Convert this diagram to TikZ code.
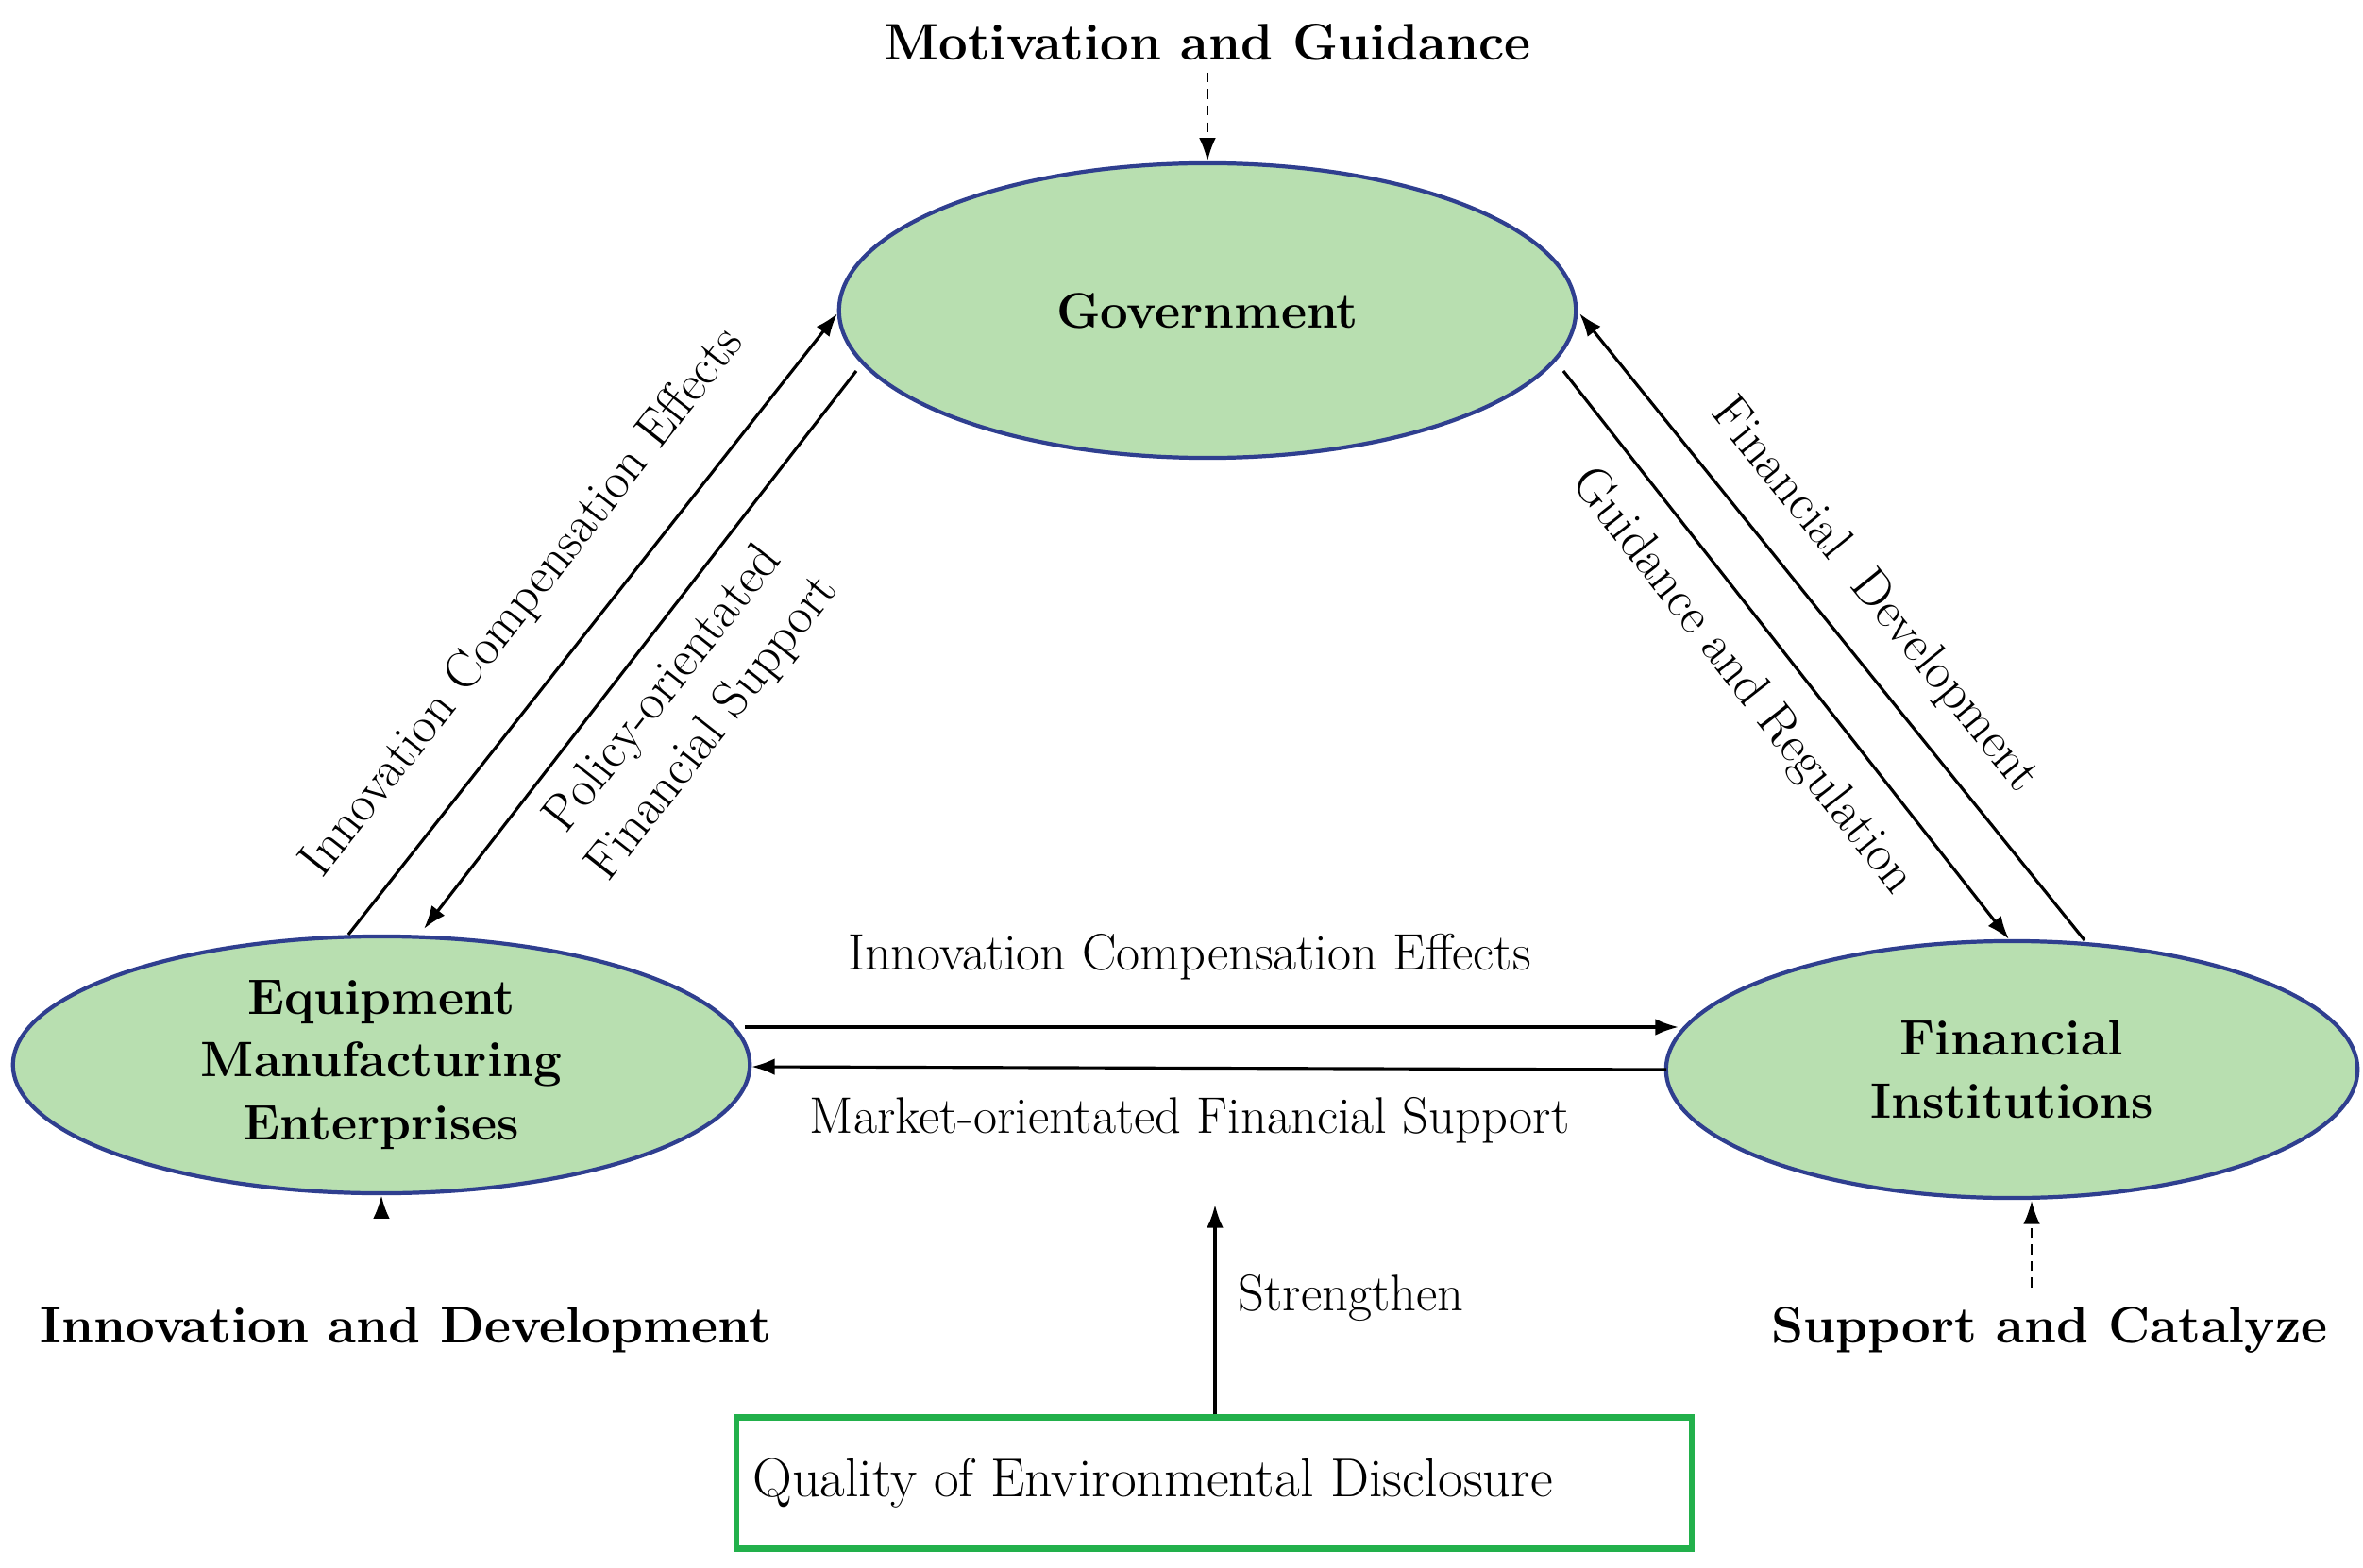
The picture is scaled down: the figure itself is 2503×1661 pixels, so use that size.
\documentclass[tikz,border=0pt]{standalone}
\usetikzlibrary{arrows.meta,shapes.geometric}
\definecolor{efill}{HTML}{B8DFB0}
\definecolor{edraw}{HTML}{2F3F8F}
\definecolor{bgreen}{HTML}{22B04B}
\tikzset{
 ell/.style={ellipse,draw=edraw,fill=efill,line width=1.2pt,font=\fontsize{15}{19}\selectfont\bfseries,align=center,inner sep=0pt},
 arr/.style={-{Latex[length=7pt,width=5pt]},line width=0.9pt},
 darr/.style={arr,densely dashed,line width=0.6pt},
 lab/.style={font=\fontsize{15.5}{19}\selectfont,align=center},
 head/.style={font=\fontsize{15.5}{20}\selectfont\bfseries}
}
\begin{document}
\begin{tikzpicture}[x=0.01cm,y=-0.01cm]
\useasboundingbox (0,0) rectangle (2503,1661);
\node[ell,minimum width=7.8cm,minimum height=3.12cm] (gov) at (1279,329) {Government};
\node[ell,minimum width=7.8cm,minimum height=2.72cm] (eme) at (404,1128) {Equipment\\Manufacturing\\Enterprises};
\node[ell,minimum width=7.32cm,minimum height=2.72cm] (fin) at (2131,1133) {Financial\\Institutions};
\node[head] (mg) at (1279,45) {Motivation and Guidance};
\draw[darr] (mg.south) -- (gov.north);
\coordinate (a1) at (369,990); \coordinate (a2) at (887,332);
\coordinate (b1) at (907,393); \coordinate (b2) at (449,984);
\coordinate (c1) at (1656,393); \coordinate (c2) at (2128,995);
\coordinate (d1) at (2208,996); \coordinate (d2) at (1673,332);
\draw[arr] (a1) -- (a2);
\draw[arr] (b1) -- (b2);
\draw[arr] (c1) -- (c2);
\draw[arr] (d1) -- (d2);
\coordinate (h1) at (789,1088); \coordinate (h2) at (1778,1088);
\coordinate (m1) at (1765,1133); \coordinate (m2) at (796,1130);
\draw[arr] (h1) -- (h2);
\draw[arr] (m1) -- (m2);
\node[lab] (l1) at (1260,1014) {Innovation Compensation Effects};
\node[lab] (l2) at (1260,1187) {Market-orientated Financial Support};
\node[lab,rotate=51.8] (l3) at (554,639) {Innovation Compensation Effects};
\node[lab,rotate=51.8] (l4) at (730,751) {Policy-orientated\\Financial Support};
\node[lab,rotate=-52] (l5) at (1845,722) {Guidance and Regulation};
\node[lab,rotate=-51] (l6) at (1985,631) {Financial\ \ Development};
\node[head] (id) at (430,1409) {Innovation and Development};
\coordinate (ia) at (404,1287);
\draw[arr] (ia) -- (eme.south);
\node[head] (sc) at (2171,1409) {Support and Catalyze};
\coordinate (sa) at (2152,1364); \coordinate (sb) at (2152,1272);
\draw[darr] (sa) -- (sb);
\node[draw=bgreen,line width=1.8pt,minimum width=10.12cm,minimum height=1.39cm,font=\fontsize{16.5}{20}\selectfont] (q) at (1286,1571) {Quality of Environmental Disclosure\hspace*{1.3cm}};
\coordinate (st) at (1287,1276);
\draw[arr] (q.north -| st) -- (st);
\node[lab] (sl) at (1431,1375) {Strengthen};
\end{tikzpicture}
\end{document}
